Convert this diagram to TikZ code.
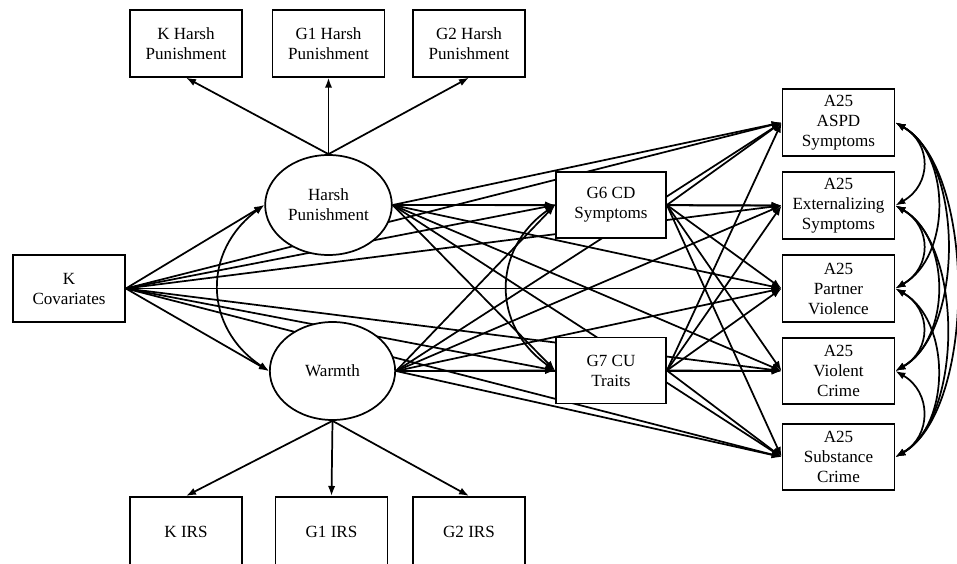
\documentclass[tikz,border=0pt]{standalone}
\usepackage{fontspec}
\setmainfont{Liberation Serif}
\usetikzlibrary{arrows.meta,backgrounds,shapes.geometric}

\begin{document}
\begin{tikzpicture}[x=0.75pt,y=0.75pt]
\tikzset{every node/.style={font=\fontsize{12.8}{15}\selectfont,align=center}}
\tikzset{obs/.style={draw,line width=1.3pt,fill=white,minimum width=84pt,minimum height=50pt,inner sep=1pt}}
\tikzset{mid/.style={obs,minimum width=82.5pt,minimum height=49.5pt}}
\tikzset{lat/.style={draw,ellipse,line width=1.3pt,fill=white,inner sep=0pt}}
\tikzset{path/.style={line width=1.3pt,-{Latex[length=7.5pt,width=5.5pt]}}}
\tikzset{cov/.style={line width=1.3pt,{Latex[length=7.5pt,width=5.5pt]}-{Latex[length=7.5pt,width=5.5pt]}}}

\useasboundingbox (0,0) rectangle (957,-564);

\node[obs] (kcov) at (69,-288.5) {K\\Covariates};

\node[obs] (khp) at (186,-43.5) {K Harsh\\Punishment};
\node[obs] (g1hp) at (328.5,-43.5) {G1 Harsh\\Punishment};
\node[obs] (g2hp) at (469,-43.5) {G2 Harsh\\Punishment};

\node[lat,minimum width=95pt,minimum height=75pt] (hp) at (328.5,-205) {Harsh\\Punishment};
\node[lat,minimum width=94pt,minimum height=73.5pt] (wm) at (332.5,-371) {Warmth};

\node[obs,minimum height=52pt] (kirs) at (186,-531.5) {K IRS};
\node[obs,minimum height=52pt] (g1irs) at (331.5,-531.5) {G1 IRS};
\node[obs,minimum height=52pt] (g2irs) at (469,-531.5) {G2 IRS};

\node[mid] (g6) at (611,-205) {G6 CD\\Symptoms};
\node[mid] (g7) at (611,-370.5) {G7 CU\\Traits};

\node[obs] (aspd) at (838.5,-122.5) {A25\\ASPD\\Symptoms};
\node[obs] (ext) at (838.5,-205.5) {A25\\Externalizing\\Symptoms};
\node[obs] (pv) at (838.5,-288.5) {A25\\Partner\\Violence};
\node[obs] (vc) at (838.5,-371) {A25\\Violent\\Crime};
\node[obs] (sc) at (838.5,-457) {A25\\Substance\\Crime};

\begin{pgfonlayer}{background}
\draw[path] (hp.north) -- (khp.south);
\draw[path] (hp.north) -- (g1hp.south);
\draw[path] (hp.north) -- (g2hp.south);
\draw[path] (wm.south) -- (kirs.north);
\draw[path] (wm.south) -- (g1irs.north);
\draw[path] (wm.south) -- (g2irs.north);

\draw[path] (kcov.east) -- (hp.west);
\draw[path] (kcov.east) -- (wm.west);
\foreach \t in {g6,g7,aspd,ext,pv,vc,sc}
  \draw[path] (kcov.east) -- (\t.west);
\foreach \s in {hp,wm}
  \foreach \t in {g6,g7,aspd,ext,pv,vc,sc}
    \draw[path] (\s.east) -- (\t.west);
\foreach \s in {g6,g7}
  \foreach \t in {aspd,ext,pv,vc,sc}
    \draw[path] (\s.east) -- (\t.west);

\draw[cov] (hp.west) to[bend right=55,looseness=1.2] (wm.west);
\draw[cov] (g6.west) to[bend right=55,looseness=1.2] (g7.west);

\foreach \a/\b/\l in {aspd/ext/1.3,ext/pv/1.3,pv/vc/1.3,vc/sc/1.25,
  aspd/pv/1.0,ext/vc/1.0,pv/sc/0.98,aspd/vc/0.82,ext/sc/0.8,aspd/sc/0.72}
  \draw[cov] (\a.east) to[out=-30,in=30,looseness=\l] (\b.east);
\end{pgfonlayer}

\end{tikzpicture}
\end{document}
